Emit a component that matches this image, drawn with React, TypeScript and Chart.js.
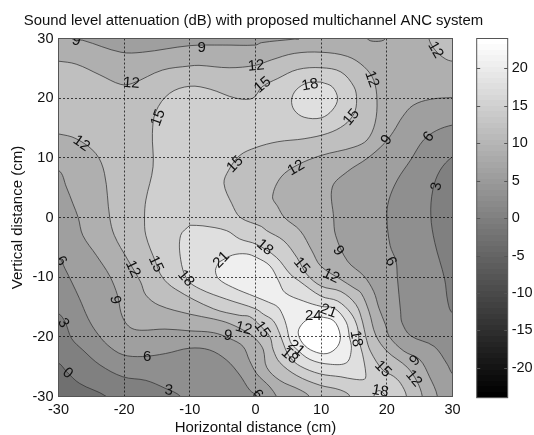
import { useEffect, useRef } from "react";
import { Chart, registerables } from "chart.js";

Chart.register(...registerables);

type P = number[];

const chartTitle = "Sound level attenuation (dB) with proposed multichannel ANC system";
const axisTicks = [-30, -20, -10, 0, 10, 20, 30];
const colorbarTicks = [-20, -15, -10, -5, 0, 5, 10, 15, 20];
const colorbarRange = [-24, 24];
const colorbarBands = 64;

const regionBelow0: P[] = [[-38, -38], [38, -38], [38, 38], [-38, 38]];
const region0: P[] = [[-36, -22], [-30, -24.4], [-28.8, -25.8], [-26.8, -27.8], [-22.7, -30], [-20, -33], [-20, -38], [38, -38], [38, 38], [-38, 38], [-38, -22]];
const region3: P[] = [[-36, -13], [-30, -16.1], [-29, -17.5], [-28, -20.3], [-26.3, -22.2], [-23.7, -24.7], [-20.2, -26.7], [-16.7, -27.3], [-13.8, -28.6], [-11.4, -30], [-9, -34], [-9, -38], [38, -38], [38, -18], [33, -17], [30, -16], [29.3, -14.2], [28.8, -10.3], [27.3, -4.2], [26.7, 0.3], [27, 4.6], [28.1, 7.9], [30, 10.2], [34, 13], [38, 14], [38, 38], [-38, 38], [-38, -13]];
const region6: P[] = [[-36, -4], [-30, -6.7], [-29, -8.6], [-28, -10.8], [-26.8, -13.6], [-25.5, -16.9], [-24.3, -19.1], [-22.5, -21.4], [-20.2, -23], [-17.2, -23.3], [-13.7, -22.8], [-10, -21.9], [-7, -22.2], [-4.4, -23.9], [-2.4, -26.4], [-0.9, -28.9], [0.3, -30], [2, -33], [2, -38], [38, -38], [38, -30], [33, -29], [30, -26.2], [29.2, -24.6], [27.2, -21.6], [23.6, -19.8], [22.3, -17.6], [22.1, -15.8], [21.6, -10], [21.4, -7.3], [20.5, -4.7], [20, 0], [20.3, 2.9], [21.6, 6.3], [23.6, 9.6], [25.6, 13], [27.6, 14.6], [30, 15.5], [35, 16.5], [38, 17], [38, 38], [-38, 38], [-38, -4]];
const region9: P[] = [[-36, 10], [-30, 7.9], [-28.8, 5.1], [-27.8, 2.3], [-27, 0], [-26.3, -3], [-24.2, -6.4], [-22.2, -9.8], [-21, -13.1], [-20.5, -15.9], [-19.8, -17.6], [-18.8, -18.6], [-17.3, -18.9], [-13.8, -18.7], [-10, -19], [-6.4, -19.3], [-3.9, -20.3], [-1.9, -21.6], [-0.9, -24], [0.2, -26.2], [2.2, -28.4], [3.2, -30], [5, -34], [5, -38], [27, -38], [27.7, -34], [27.7, -30], [26.5, -26.7], [25, -23.8], [22.6, -22.4], [20.4, -20], [19.8, -18], [18.8, -15.2], [18, -12.4], [16.5, -9.8], [14, -7.3], [12.2, -3], [11.9, 0], [11.7, 5.1], [14, 7.7], [17, 9.9], [19.6, 12.4], [21, 14.4], [22.4, 16.9], [24, 18.8], [26.6, 19.8], [30, 20.1], [34, 20.2], [38, 20.2], [38, 38], [20.5, 38], [20, 33], [19.8, 30], [18.3, 29.5], [17, 30], [16.5, 33], [16.5, 36], [7, 36], [7, 33], [6.7, 30], [5.9, 29.9], [0.9, 29.3], [0, 28.9], [-5, 28.9], [-10, 28.8], [-17.2, 27.7], [-20.5, 27.7], [-26.3, 29.7], [-28, 30], [-29, 33], [-29, 38], [-38, 38], [-38, 10]];
const region12: P[] = [[-36, 15], [-30, 14], [-27.3, 13.2], [-24.3, 10.7], [-23, 7.4], [-22.2, 0], [-21.5, -3], [-19.5, -7], [-17.5, -10.8], [-16.7, -13], [-14.7, -14.7], [-10, -16.2], [-6.4, -17], [-3.9, -17.8], [-0.9, -19.5], [0.4, -20.8], [1.2, -22.2], [1.7, -25.1], [3.7, -27.3], [6.8, -28.9], [8.2, -30], [10, -34], [10, -38], [25, -38], [25.4, -33], [25.4, -30], [24.6, -27.5], [23.1, -25.1], [20, -22.4], [18.3, -19.7], [17.3, -15.8], [16.1, -12.7], [15, -11.8], [13, -10.4], [9.9, -8.1], [8.6, -5.6], [6.8, -2.2], [4.4, 0], [3.4, 1.8], [2.6, 3.5], [3.9, 6.8], [6.4, 8.8], [10, 10.4], [15, 11.8], [17, 13], [18.2, 15.8], [18.5, 19.7], [18, 23], [16.5, 25.3], [14, 27], [10, 27.7], [5.9, 27.5], [2.4, 26.4], [0, 25.5], [-4, 25.1], [-8.6, 25.5], [-10, 25.4], [-14.2, 24.7], [-18.7, 22.5], [-20.5, 22.3], [-23.7, 23.9], [-27.3, 25.7], [-30, 26.2], [-36, 27]];
const region12Corner: P[] = [[26.4, 37], [26.4, 33], [26.4, 30], [27.4, 28], [28.9, 26.6], [30, 26.2], [34, 26], [38, 26], [38, 37], [26.4, 37]];
const region15: P[] = [[14.4, -38], [14.4, -33], [14.4, -30], [12.9, -28.9], [9.8, -28.1], [6.3, -26.5], [3.7, -24.3], [2.7, -22.2], [2.2, -20], [0.7, -18.1], [-0.9, -16.6], [-2.4, -16.4], [-6.4, -15.3], [-12.2, -12], [-14.2, -10], [-15.2, -7.5], [-16.7, -3], [-16.9, 0], [-16.7, 2.9], [-15.6, 8.5], [-15.7, 14.1], [-15.2, 17.7], [-13.1, 20.8], [-10, 22], [-6.9, 21.5], [-3, 20], [-0.4, 20], [1, 21.9], [3.4, 23.3], [6.4, 24.8], [10, 25.1], [13, 24.4], [15, 21.9], [15.4, 19.7], [15, 17.4], [13.5, 15.5], [11, 14.1], [7.4, 13.2], [3.4, 12.7], [0, 11.7], [-2.4, 10.4], [-4.1, 7.9], [-4.8, 5.7], [-3.6, 2.3], [-2.3, 0], [0.9, -1.5], [1.7, -2.2], [4.3, -3.9], [6.3, -6.7], [7.8, -9.5], [10, -11.5], [13, -12.4], [15.3, -14.6], [16.3, -17.5], [16.8, -20], [17.5, -22.4], [19.4, -25.6], [21, -26.6], [22.1, -27.8], [23, -30], [23, -34], [23, -38]];
const region18Island: P[] = [[10, 22.7], [11.7, 21.9], [12.5, 19.9], [11.7, 18], [10, 16.7], [7.4, 16.8], [5.9, 18], [5.5, 19.7], [6.2, 21.4], [8, 22.6], [10, 22.7]];
const region18Lobe: P[] = [[-10, -1.3], [-8, -1.4], [-4.4, -2.2], [-2.4, -3.6], [0.15, -4.5], [3.2, -6.7], [5.3, -9.5], [6.6, -10.6], [10, -13.2], [12.5, -14], [14.5, -16], [15.5, -18.3], [15.8, -20.8], [16.3, -22.9], [16.8, -26.2], [16.6, -27.1], [15, -27.1], [13, -26.7], [9.8, -26.2], [6.8, -24.9], [5.3, -23.5], [4.5, -21.9], [3.7, -19.5], [2.7, -17.3], [1.2, -16.2], [0, -15.3], [-4.4, -13.7], [-8.4, -12], [-10.4, -10.4], [-11.4, -7], [-11.4, -3], [-10, -1.3]];
const region18Bottom: P[] = [[17.5, -34], [18, -30], [18.8, -29], [19.8, -30], [20.3, -34], [17.5, -34]];
const region21: P[] = [[-5.6, -7.5], [-3.5, -6.3], [-1.4, -6.1], [0.15, -6.7], [2.2, -8.1], [3.5, -10.6], [4.5, -12.6], [7.3, -14], [10, -14.9], [12, -15.2], [13.8, -17.5], [14.3, -20], [14.6, -22], [13.9, -24.3], [11.4, -24.6], [8.3, -23.8], [6.1, -21.9], [5.3, -20.8], [4.7, -18.1], [4.2, -16.5], [3.4, -15], [2, -14.2], [0, -13.3], [-3.5, -11.7], [-5.6, -10.3], [-6.1, -8.9], [-5.6, -7.5]];
const region24: P[] = [[9.8, -16.6], [11.9, -17.3], [12.9, -19.7], [12.5, -21.6], [10.9, -22.8], [8.8, -22.4], [7.2, -21.1], [6.5, -19.2], [7.3, -17.6], [8.6, -16.8], [9.8, -16.6]];

const regions: [number, P[]][] = [
  [-3, regionBelow0], [0, region0], [3, region3], [6, region6], [9, region9],
  [12, region12], [12, region12Corner], [15, region15],
  [18, region18Island], [18, region18Lobe], [18, region18Bottom],
  [21, region21], [24, region24],
];

const labelTexts = ["9", "9", "12", "12", "15", "15", "12", "15", "18", "12", "12", "15", "9", "6", "12", "3", "6", "12", "15", "18", "21", "18", "15", "9", "6", "12", "9", "3", "12", "15", "9", "6", "0", "3", "6", "24", "21", "21", "18", "18", "15", "9", "12", "18"];
const labelX = [-27.3, -8.2, 0.1, -18.9, 1.1, -14.8, -26.5, -3.1, 8.3, 17.7, 27.4, 14.6, 20, 26.4, 6.2, 27.6, -29.6, -18.7, -15.2, -10.6, -5.2, 1.4, 7, 12.6, 20.6, 11.5, -21.4, -29.3, -1.8, 1, -4.2, -16.5, -28.6, -13.2, 0.3, 8.8, 11.1, 6.2, 5.2, 15.3, 19.4, 24.3, 24.1, 19];
const labelY = [29.6, 28.5, 25.4, 22.5, 22.2, 16.7, 12.4, 8.9, 22.2, 23.2, 28.1, 16.8, 13, 13.5, 8.3, 5.2, -7.3, -8.6, -7.8, -10.2, -7.1, -5, -8.1, -5.6, -7.4, -9.8, -13.8, -17.7, -18.6, -18.8, -19.8, -23.3, -26.1, -29, -29.7, -16.5, -15.7, -21.9, -23.2, -20.3, -25.4, -24, -27, -29.1];
const labelAngle = [15, 0, -5, 5, -40, -70, 35, -45, -10, 70, 60, -50, -55, -50, -30, -80, 55, 65, 65, 50, -45, 40, 50, 55, 60, 25, 80, 60, 15, 55, 8, 0, 40, 5, 50, 0, 20, 40, 40, 80, 45, -45, 50, 10];

const FONT = "'Liberation Sans', Arial, sans-serif";
const grayOf = (level: number) => {
  const g = Math.round(((level + 24) / 48) * 255);
  return `rgb(${g},${g},${g})`;
};

const fillPlugin = {
  id: "regionFill",
  beforeDatasetDraw(chart: any, args: any) {
    const line = args.meta.dataset;
    const { ctx, chartArea: a } = chart;
    ctx.save();
    ctx.beginPath();
    ctx.rect(a.left, a.top, a.right - a.left, a.bottom - a.top);
    ctx.clip();
    line.updateControlPoints(a);
    ctx.beginPath();
    line.path(ctx);
    ctx.closePath();
    ctx.fillStyle = chart.data.datasets[args.index].fillColor;
    ctx.fill();
    ctx.restore();
  },
};

const labelPlugin = {
  id: "contourLabels",
  afterDatasetsDraw(chart: any) {
    const { ctx, chartArea: a, scales } = chart;
    ctx.save();
    ctx.beginPath();
    ctx.rect(a.left, a.top, a.right - a.left, a.bottom - a.top);
    ctx.clip();
    ctx.fillStyle = "#111";
    ctx.font = `15px ${FONT}`;
    ctx.textAlign = "center";
    ctx.textBaseline = "middle";
    labelTexts.forEach((t, i) => {
      ctx.save();
      ctx.translate(scales.x.getPixelForValue(labelX[i]), scales.y.getPixelForValue(labelY[i]));
      ctx.rotate((labelAngle[i] * Math.PI) / 180);
      ctx.fillText(t, 0, 0);
      ctx.restore();
    });
    ctx.restore();
  },
};

const framePlugin = {
  id: "frame",
  afterDraw(chart: any) {
    const { ctx, chartArea: a } = chart;
    ctx.save();
    ctx.strokeStyle = "#555";
    ctx.lineWidth = 1;
    ctx.strokeRect(a.left, a.top, a.right - a.left, a.bottom - a.top);
    ctx.fillStyle = "#111";
    ctx.font = `14.9px ${FONT}`;
    ctx.textAlign = "center";
    ctx.textBaseline = "middle";
    ctx.fillText(chartTitle, 253.5, 20.5);
    ctx.restore();
  },
};

const colorbarFrame = {
  id: "colorbarFrame",
  afterDraw(chart: any) {
    const { ctx, chartArea: a, scales } = chart;
    ctx.save();
    ctx.strokeStyle = "#555";
    ctx.lineWidth = 1;
    ctx.strokeRect(a.left, a.top, a.right - a.left, a.bottom - a.top);
    colorbarTicks.forEach((v) => {
      const y = Math.round(scales.y.getPixelForValue(v)) + 0.5;
      ctx.beginPath();
      ctx.moveTo(a.left, y);
      ctx.lineTo(a.left + 3.5, y);
      ctx.moveTo(a.right - 3.5, y);
      ctx.lineTo(a.right, y);
      ctx.stroke();
    });
    ctx.restore();
  },
};

export default function App() {
  const mainRef = useRef<HTMLCanvasElement>(null);
  const barRef = useRef<HTMLCanvasElement>(null);

  useEffect(() => {
    const tickFont = { family: FONT, size: 14.5 };
    const axis = (title: string, titlePadding: any, fit: (s: any) => void) => ({
      type: "linear" as const,
      min: axisTicks[0],
      max: axisTicks[axisTicks.length - 1],
      afterBuildTicks: (s: any) => {
        s.ticks = axisTicks.map((value) => ({ value }));
      },
      afterFit: fit,
      grid: { z: 1, color: "rgba(0,0,0,0.7)", lineWidth: 1, drawTicks: false },
      border: { display: false, dash: [2, 2] },
      ticks: { font: tickFont, color: "#111", padding: 5, maxRotation: 0, autoSkip: false },
      title: {
        display: true,
        text: title,
        color: "#111",
        font: { family: FONT, size: 15, lineHeight: 1 },
        padding: titlePadding,
      },
    });

    const main = new Chart(mainRef.current as HTMLCanvasElement, {
      type: "scatter",
      data: {
        datasets: regions.map(([level, pts]) => ({
          data: pts,
          showLine: true,
          tension: 0.35,
          pointRadius: 0,
          borderColor: "#333",
          borderWidth: 0.75,
          order: -level,
          fillColor: grayOf(level),
        })) as any,
      },
      options: {
        animation: false,
        responsive: false,
        events: [],
        layout: { padding: { left: 0, right: 81.5, top: 38.5, bottom: 0 } },
        elements: { line: { capBezierPoints: false } },
        plugins: {
          legend: { display: false },
          tooltip: { enabled: false },
          title: { display: false },
        },
        scales: {
          x: axis("Horizontal distance (cm)", { top: 0, bottom: 0 }, (s: any) => {
            s.height = 38.5;
          }),
          y: axis("Vertical distance (cm)", { top: 10, bottom: 0 }, (s: any) => {
            s.width = 58.5;
          }),
        },
      },
      plugins: [fillPlugin, labelPlugin, framePlugin],
    } as any);

    const colorbar = new Chart(barRef.current as HTMLCanvasElement, {
      type: "bar",
      data: {
        labels: ["dB"],
        datasets: [
          {
            data: [colorbarRange],
            barPercentage: 1,
            categoryPercentage: 1,
            backgroundColor: (c: any) => {
              const a = c.chart.chartArea;
              if (!a) return "#808080";
              const g = c.chart.ctx.createLinearGradient(0, a.bottom, 0, a.top);
              for (let i = 0; i < colorbarBands; i++) {
                const v = Math.round((i / (colorbarBands - 1)) * 255);
                const col = `rgb(${v},${v},${v})`;
                g.addColorStop(i / colorbarBands, col);
                g.addColorStop((i + 1) / colorbarBands, col);
              }
              return g;
            },
          },
        ],
      },
      options: {
        animation: false,
        responsive: false,
        events: [],
        layout: { padding: { left: 6.7, right: 0, top: 38.5, bottom: 37.3 } },
        plugins: { legend: { display: false }, tooltip: { enabled: false } },
        scales: {
          x: { display: false },
          y: {
            position: "right",
            min: colorbarRange[0],
            max: colorbarRange[1],
            afterBuildTicks: (s: any) => {
              s.ticks = colorbarTicks.map((value) => ({ value }));
            },
            afterFit: (s: any) => {
              s.width = 26.3;
            },
            grid: { display: false, drawTicks: false },
            border: { display: false },
            ticks: { font: tickFont, color: "#111", padding: 4, autoSkip: false },
          },
        },
      },
      plugins: [colorbarFrame],
    } as any);

    return () => {
      main.destroy();
      colorbar.destroy();
    };
  }, []);

  return (
    <div style={{ position: "absolute", left: 0, top: 0, width: 534, height: 435, background: "#fff" }}>
      <canvas ref={mainRef} width={534} height={435} style={{ position: "absolute", left: 0, top: 0, display: "block" }} />
      <canvas ref={barRef} width={64} height={435} style={{ position: "absolute", left: 470, top: 0, display: "block" }} />
    </div>
  );
}
